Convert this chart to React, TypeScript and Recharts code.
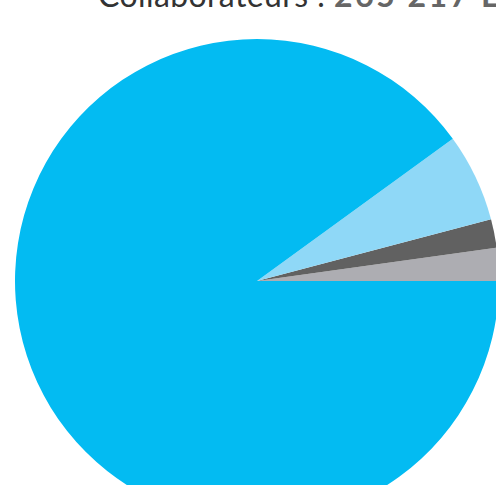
import { PieChart, Pie, Cell } from 'recharts'

const categories = ['Autres', 'Catégorie C', 'Catégorie B', 'Catégorie A']
const values = [2.2, 1.9, 5.9, 90.0]
const colors = ['#adadb2', '#616161', '#8fd8f7', '#03bbf2']

const data = categories.map((name, i) => ({ name, value: values[i] }))

export default function App() {
  return (
    <div style={{ position: 'fixed', left: 0, top: 0, width: 496, height: 485, overflow: 'hidden', background: '#fff' }}>
      <PieChart width={496} height={485} margin={{ top: 0, right: 0, bottom: 0, left: 0 }}>
        <Pie
          data={data}
          dataKey="value"
          nameKey="name"
          cx={257}
          cy={281}
          outerRadius={242}
          startAngle={0}
          endAngle={360}
          stroke="none"
          isAnimationActive={false}
        >
          {data.map((d, i) => (
            <Cell key={d.name} fill={colors[i]} />
          ))}
        </Pie>
      </PieChart>
      <svg width={496} height={485} style={{ position: 'absolute', left: 0, top: 0, pointerEvents: 'none' }}>
        <text x={98} y={7} fontFamily="Lato, sans-serif" fontSize={32}>
          <tspan fill="#333" letterSpacing={0.4}>Collaborateurs : </tspan>
          <tspan fill="#666" fontWeight="bold" letterSpacing={2.5}>265 217 E</tspan>
        </text>
      </svg>
    </div>
  )
}
